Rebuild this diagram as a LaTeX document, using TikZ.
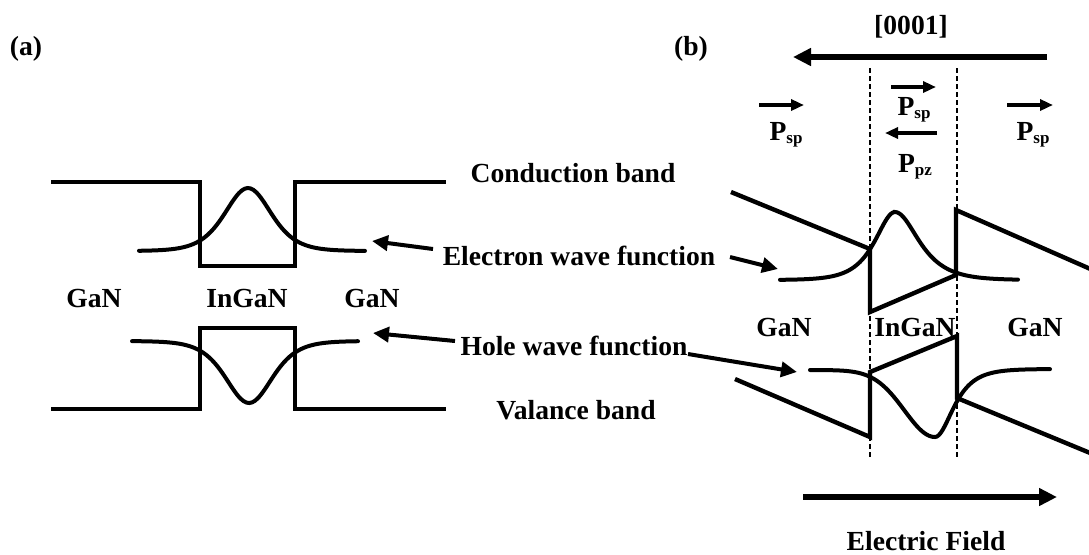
\documentclass[tikz,border=0pt]{standalone}
\usepackage{fontspec}
\setmainfont{Liberation Serif}
\usetikzlibrary{arrows.meta}
\newcommand\Psub[1]{P\raisebox{-0.3ex}{\fontsize{8.5pt}{9pt}\selectfont #1}}
\begin{document}
\begin{tikzpicture}[x=0.5pt,y=-0.5pt,
  band/.style={line width=2.2pt,line join=miter},
  wave/.style={line width=2pt,line cap=round},
  lbl/.style={font=\fontsize{13.8pt}{16pt}\selectfont\bfseries,inner sep=0pt,anchor=base},
  warrow/.style={line width=2pt,-{Triangle[length=8pt,width=7.5pt]}},
  parrow/.style={line width=1.7pt,-{Triangle[length=6.5pt,width=5.5pt]}},
  bigarrow/.style={line width=2.8pt,-{Triangle[length=9pt,width=8.5pt]}},
  dashline/.style={line width=0.6pt,dash pattern=on 2.5pt off 1.5pt}]
\useasboundingbox (0,0) rectangle (1089,554);

% ---------- (a) ----------
\node[lbl] (la) at (26,55) {(a)};
\draw[band] (51,182) -- (200,182) -- (200,266) -- (295,266) -- (295,182) -- (446,182);
\draw[band] (51,409) -- (200,409) -- (200,328) -- (295,328) -- (295,409) -- (446,409);
\draw[wave] plot[domain=139:365,samples=80,smooth] (\x,{251-63/(cosh((\x-248)/31))^2});
\draw[wave] plot[domain=132:358,samples=80,smooth] (\x,{341+62/(cosh((\x-249)/31))^2});
\node[lbl] (ga1) at (94,307) {GaN};
\node[lbl] (ig1) at (247,307) {InGaN};
\node[lbl] (ga2) at (372,307) {GaN};

% ---------- labels ----------
\node[lbl] (cb) at (573,182) {Conduction band};
\node[lbl] (ewf) at (579,265) {Electron wave function};
\node[lbl] (hwf) at (574,355) {Hole wave function};
\node[lbl] (vb) at (576,419) {Valance band};

\coordinate (e1s) at (433,249); \coordinate (e1t) at (372,241);
\coordinate (e2s) at (730,257); \coordinate (e2t) at (778,269);
\coordinate (h1s) at (455,341); \coordinate (h1t) at (373,333);
\coordinate (h2s) at (688,354); \coordinate (h2t) at (797,372);
\draw[warrow] (e1s) -- (e1t);
\draw[warrow] (e2s) -- (e2t);
\draw[warrow] (h1s) -- (h1t);
\draw[warrow] (h2s) -- (h2t);

% ---------- (b) ----------
\node[lbl] (lb) at (691,55) {(b)};
\node[lbl] (dir) at (911,34) {[0001]};
\coordinate (d1) at (1047,57); \coordinate (d2) at (793,57);
\draw[bigarrow] (d1) -- (d2);

\draw[dashline] (870,68) -- (870,458);
\draw[dashline] (957,68) -- (957,458);

\coordinate (p1a) at (759,105); \coordinate (p1b) at (804,105);
\coordinate (p2a) at (891,87);  \coordinate (p2b) at (936,87);
\coordinate (p3a) at (937,133); \coordinate (p3b) at (885,133);
\coordinate (p4a) at (1007,105); \coordinate (p4b) at (1053,105);
\draw[parrow] (p1a) -- (p1b);
\draw[parrow] (p2a) -- (p2b);
\draw[parrow] (p3a) -- (p3b);
\draw[parrow] (p4a) -- (p4b);
\node[lbl] (ps1) at (786,140) {\Psub{sp}};
\node[lbl] (ps2) at (914,115) {\Psub{sp}};
\node[lbl] (ppz) at (915,172) {\Psub{pz}};
\node[lbl] (ps3) at (1033,140) {\Psub{sp}};

\draw[band] (731,192) -- (870,249) -- (870,312) -- (956,275) -- (956,210) -- (1095,271);
\draw[band] (735,379) -- (870,437) -- (870,372) -- (957,336) -- (957,398) -- (1095,455);

\draw[wave] plot[domain=780:895,samples=60,smooth] (\x,{280-68/cosh((\x-895)/17.5)})
  -- plot[domain=895:1018,samples=60,smooth] (\x,{280-68/cosh((\x-895)/21)});
\draw[wave] plot[domain=810:935,samples=60,smooth] (\x,{370+67*exp(-((\x-935)/43)^2)})
  -- plot[domain=935:1050,samples=60,smooth] (\x,{369+68/cosh((\x-935)/16)});

\node[lbl] (ga3) at (784,336) {GaN};
\node[lbl] (ig2) at (915,336) {InGaN};
\node[lbl] (ga4) at (1035,336) {GaN};

\coordinate (f1) at (803,497); \coordinate (f2) at (1057,497);
\draw[bigarrow] (f1) -- (f2);
\node[lbl] (ef) at (926,550) {Electric Field};
\end{tikzpicture}
\end{document}
